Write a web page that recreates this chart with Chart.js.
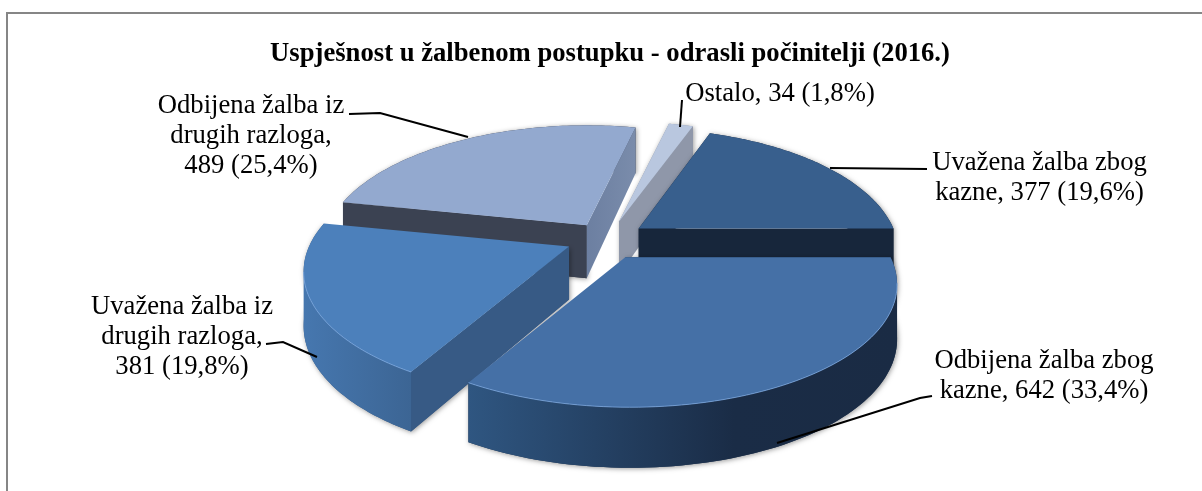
<!DOCTYPE html>
<html><head><meta charset="utf-8">
<style>html,body{margin:0;padding:0;background:#fff}canvas{display:block}</style>
<script src="https://cdn.jsdelivr.net/npm/chart.js@4/dist/chart.umd.js"></script>
</head><body>
<div style="width:1202px;height:491px;position:relative"><canvas id="c" width="1202" height="491"></canvas></div>
<script>
const titleText = "Uspješnost u žalbenom postupku - odrasli počinitelji (2016.)";
const categories = ["Uvažena žalba zbog kazne","Odbijena žalba zbog kazne","Uvažena žalba iz drugih razloga","Odbijena žalba iz drugih razloga","Ostalo"];
const values = [377,642,381,489,34];
const percents = ["19,6","33,4","19,8","25,4","1,8"];
const topColors = ["#385F8D","#4570A6","#4C80BB","#93A9CF","#B9C7DF"];
const offsets = [21,21,21,18,24];

// label wrapping, anchors and leaders (annotation layout)
const vt = i => values[i]+" ("+percents[i]+"%)";
const labelLines = [
  ["Uvažena žalba zbog","kazne, "+vt(0)],
  ["Odbijena žalba zbog","kazne, "+vt(1)],
  ["Uvažena žalba iz","drugih razloga,",vt(2)],
  ["Odbijena žalba iz","drugih razloga,",vt(3)],
  ["Ostalo, "+vt(4)]
];
const labelAnchor = [[1039.5,170],[1044,368],[182,314],[251,113],[780,101]];
const leaders = [
  [[927,169],[830,168]],
  [[932,396],[920,398],[777,443]],
  [[266,344],[283,342],[317,357]],
  [[349,114],[380,113],[468,137]],
  [[682,100],[680,127]]
];
const faceStyle = [
  {s:"#17263B",e:"#17263B",wall:["#1d3250","#1d3250"]},
  {s:"#1f3552",e:"#2f547f",wall:["#2f5681","#1a2c46","#1a2b44"],wallStops:[0,.62,1]},
  {s:"#375A85",e:"#375A85",wall:["#4677af","#3c6594"]},
  {s:"#3B4252",e:"#3B4252",endGrad:["#6c7fa1","#7a8cab"],wall:["#3B4252","#3B4252"]},
  {s:"#8F97A9",e:"#8F97A9",wall:["#8F97A9","#8F97A9"]}
];
const drawOrder = [4,3,0,2,1];
const sliceShift = [[5,-3],[2,2],[-3,-1],[-2,-4],[3,-2]];
const sliceScaleX = [.965,1.005,.985,.98,1];
const sliceShear = [0,5,0,0,0];
const RX=264, RY=120, PERSP=.2, CX_SHIFT=-5, CY_SHIFT=0;
const depthAt = v => 53+7.5*v;

const proj=(u,v,r)=>{const d=1-PERSP*v*r;return [RX*r*u/d,RY*r*v/d];};

const pie3d={
  id:'pie3d',
  beforeDraw(chart){
    const c=chart.ctx;c.save();c.fillStyle="#fff";c.fillRect(0,0,chart.width,chart.height);
    c.fillStyle="#868686";c.fillRect(6,12,chart.width-6,2);c.fillRect(6,12,2,chart.height);c.restore();
  },
  beforeDatasetDraw(chart){
    const ctx=chart.ctx, arcs=chart.getDatasetMeta(0).data;
    drawOrder.forEach(i=>drawSlice(ctx,arcs[i],i));
    drawLabels(ctx);
    return false;
  }
};
function poly(ctx,pts){ctx.beginPath();pts.forEach((p,k)=>k?ctx.lineTo(p[0],p[1]):ctx.moveTo(p[0],p[1]));ctx.closePath();}
function grad(ctx,x0,x1,cols,stops){const g=ctx.createLinearGradient(x0,0,x1,0);cols.forEach((c,k)=>g.addColorStop(stops?stops[k]:k/(cols.length-1),c));return g;}
function drawSlice(ctx,arc,i){
  const st=faceStyle[i], a0=arc.startAngle, a1=arc.endAngle, mid=(a0+a1)/2;
  const o=arc.options.offset/arc.outerRadius;
  const cx=arc.x+CX_SHIFT+sliceShift[i][0], cy=arc.y+CY_SHIFT+sliceShift[i][1];
  const op=proj(Math.cos(mid),Math.sin(mid),o);
  const ax=cx+op[0], ay=cy+op[1];
  const n=80, top=[], low=[];
  for(let k=0;k<=n;k++){
    const t=a0+(a1-a0)*k/n,u=Math.cos(t),v=Math.sin(t),p=proj(u,v,1);
    const px=p[0]*sliceScaleX[i]+sliceShear[i]*v;
    top.push([ax+px,ay+p[1]]);
    low.push([ax+px,ay+p[1]+depthAt(v)]);
  }
  const apexT=[ax,ay], apexL=[ax,ay+depthAt(0)];
  ctx.save();
  ctx.shadowColor="rgba(0,0,0,.4)";ctx.shadowBlur=5;ctx.shadowOffsetX=1;ctx.shadowOffsetY=1;
  ctx.fillStyle=st.s;poly(ctx,[apexT,...top,...low.slice().reverse(),apexL]);ctx.fill();
  ctx.restore();
  if(top[0][0]<ax){ctx.fillStyle=st.s;poly(ctx,[apexT,top[0],low[0],apexL]);ctx.fill();}
  if(top[n][0]>ax){
    ctx.fillStyle=st.endGrad?grad(ctx,ax,top[n][0],st.endGrad):st.e;
    poly(ctx,[apexT,top[n],low[n],apexL]);ctx.fill();
  }
  let first=-1,last=-1;
  for(let k=0;k<n;k++){ if(top[k+1][0]<top[k][0]){ if(first<0)first=k; last=k+1; } }
  if(first>=0){
    const tp=top.slice(first,last+1), lw=low.slice(first,last+1).reverse();
    ctx.fillStyle=grad(ctx,tp[tp.length-1][0],tp[0][0],st.wall,st.wallStops);
    poly(ctx,[...tp,...lw]);ctx.fill();
  }
  ctx.fillStyle=arc.options.backgroundColor;
  poly(ctx,[apexT,...top]);ctx.fill();
  if(i===1||i===2){
    ctx.save();ctx.strokeStyle="rgba(125,170,225,.75)";ctx.lineWidth=1;ctx.beginPath();
    for(let k=first;k<=last;k++){const p=top[k];k===first?ctx.moveTo(p[0],p[1]):ctx.lineTo(p[0],p[1]);}
    ctx.stroke();ctx.restore();
  }
}
function drawLabels(ctx){
  ctx.save();
  ctx.strokeStyle="#000";ctx.lineWidth=2;
  leaders.forEach(l=>{ctx.beginPath();l.forEach((p,k)=>k?ctx.lineTo(p[0],p[1]):ctx.moveTo(p[0],p[1]));ctx.stroke();});
  ctx.fillStyle="#000";ctx.font='26.67px "Liberation Serif"';ctx.textAlign="center";ctx.textBaseline="alphabetic";
  labelLines.forEach((ls,i)=>ls.forEach((t,k)=>ctx.fillText(t,labelAnchor[i][0],labelAnchor[i][1]+k*30.2)));
  ctx.restore();
}
new Chart(document.getElementById('c'),{
  type:'pie',
  data:{labels:categories,datasets:[{data:values,backgroundColor:topColors,offset:offsets,borderWidth:0}]},
  plugins:[pie3d],
  options:{
    responsive:false,animation:false,rotation:19.4,
    layout:{padding:{left:18,right:0,top:20,bottom:83}},
    plugins:{
      legend:{display:false},tooltip:{enabled:false},
      title:{display:true,text:titleText,color:"#000",font:{family:'"Liberation Serif"',size:26.67,weight:'bold',lineHeight:1},padding:{top:21,bottom:6}}
    }
  }
});
</script>
</body></html>
